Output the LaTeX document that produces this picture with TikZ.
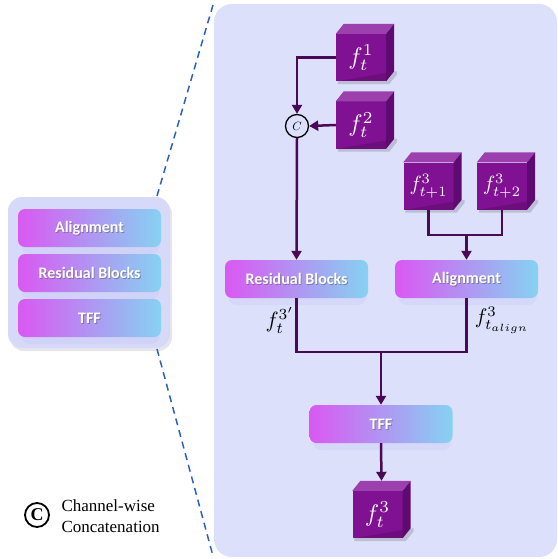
\documentclass[tikz,border=0pt]{standalone}
\usepackage{graphicx}
\usepackage{fontspec}
\newfontfamily\boxfont{Carlito}
\newfontfamily\legfont{Liberation Serif}
\usetikzlibrary{calc,arrows.meta}
\newcommand{\mbig}[2][2.2]{\scalebox{#1}{$#2$}}
\definecolor{panel}{HTML}{DCE0FA}
\definecolor{lpanel}{HTML}{D6DAF8}
\definecolor{gleft}{HTML}{DA58F2}
\definecolor{gright}{HTML}{86D2F2}
\definecolor{cfront}{HTML}{7F1192}
\definecolor{ctop}{HTML}{9C40AE}
\definecolor{cside}{HTML}{5E0A70}
\definecolor{wire}{HTML}{4A0857}
\definecolor{dashc}{HTML}{2E5FBF}
\tikzset{
  gradbox/.style={rounded corners=7pt, minimum width=143pt, minimum height=38pt, inner sep=0pt,
    left color=gleft, right color=gright},
  boxtxt/.style={text=white, inner sep=0pt, font=\boxfont\bfseries\fontsize{16}{18}\selectfont},
  boxsh/.style={boxtxt, text=black!70, opacity=0.45},
  cubeface/.style={fill=cfront, minimum width=50pt, minimum height=47pt, inner sep=0pt,
    text=white},
  wirel/.style={draw=wire, line width=2.5pt},
  arr/.style={wirel, -{Triangle[length=9pt,width=10pt]}},
  lbl/.style={inner sep=1pt},
}
\newcommand{\gbox}[3]{%
  \fill[gleft!40!gright, opacity=0.12] ($(#2)+(-68,-14)$) [rounded corners=8pt] rectangle ($(#2)+(70,26)$);
  \node[gradbox] (#1) at (#2) {};
  \node[boxsh] (#1s) at ($(#2)+(0.9,0.9)$) {#3};
  \node[boxtxt] (#1t) at (#2) {#3};
}
\begin{document}
\begin{tikzpicture}[x=1pt,y=-1pt]
\useasboundingbox (0,0) rectangle (557,559);
% big panel
\fill[panel] (214,4) [rounded corners=18pt] rectangle (557,557);
% left panel
\fill[black!30!lpanel, opacity=0.25] (10,200) [rounded corners=14pt] rectangle (172,351);
\fill[lpanel] (8,197) [rounded corners=14pt] rectangle (170,348);
% dashed lines
\draw[dashc, line width=1.5pt, dash pattern=on 7pt off 5pt] (157,196) -- (213,5);
\draw[dashc, line width=1.5pt, dash pattern=on 7pt off 5pt] (157,349) -- (213,556);
% left boxes
\gbox{la}{89.5,228}{Alignment}
\gbox{lr}{89.5,273}{Residual Blocks}
\gbox{lt}{89.5,318}{TFF}
% main boxes
\gbox{rb}{296.5,279}{Residual Blocks}
\gbox{al}{466.5,279}{Alignment}
\gbox{tff}{381,424}{TFF}
% cubes
\foreach \nm/\pos/\lab in {f1/{(361,57.5)}/{\mbig[2.4]{f_t^1}}, f2/{(361,125)}/{\mbig[2.4]{f_t^2}},
   f3a/{(428.5,186)}/{\mbig[2.05]{f_{t+1}^3}}, f3b/{(502,186)}/{\mbig[2.05]{f_{t+2}^3}}, fo/{(377.5,514.5)}/{\mbig[2.4]{f_t^3}}}{
  \node[cubeface] (\nm) at \pos {\lab};
  \fill[black, opacity=0.15] ($(\nm.south west)+(2,0)$) -- ++(0,3) -- ($(\nm.south east)+(3,3)$) -- ++(8,-10) -- ++(0,-3) -- cycle;
  \fill[ctop] (\nm.north west) -- ++(8,-10) -- ($(\nm.north east)+(8,-10)$) -- (\nm.north east) -- cycle;
  \fill[cside] (\nm.north east) -- ++(8,-10) -- ($(\nm.south east)+(8,-10)$) -- (\nm.south east) -- cycle;
}
\coordinate (fotop) at ($(fo.north)+(4,-10)$);
% concat circle
\node[circle, draw=black, line width=1.3pt, minimum size=23pt, inner sep=0pt, fill=panel] (cc) at (297,126) {\scalebox{1.2}{$C$}};
% connectors
\draw[arr] (f1.west) -| (cc.north);
\draw[arr] (f2.west) -- (cc.east);
\draw[arr] (cc.south) -- (rb.north);
\coordinate (jt) at (466.5,235);
\draw[wirel] (f3a.south) |- (jt) -| (f3b.south);
\draw[arr] (jt) -- (al.north);
\coordinate (jb) at (381,352);
\draw[wirel] (rb.south) |- (jb) -| (al.south);
\draw[arr] (jb) -- (tff.north);
\draw[arr] (tff.south) -- (fotop);
% labels
\node[lbl] (l1) at (280,320) {\mbig{f_t^{3'}}};
\node[lbl] (l2) at (502,320) {\mbig[2.1]{f^3_{t_{align}}}};
% legend
\node[circle, draw=black, line width=1.8pt, minimum size=24pt, inner sep=0pt,
  font=\legfont\bfseries\fontsize{18}{18}\selectfont] (lc) at (37,515) {C};
\node[anchor=west, align=left, font=\legfont\fontsize{17}{21}\selectfont] (lt) at (58,516) {Channel-wise\\Concatenation};
\end{tikzpicture}
\end{document}
